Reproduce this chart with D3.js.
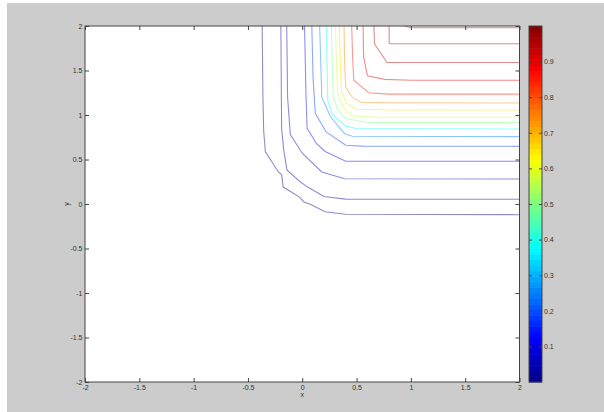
<!DOCTYPE html>
<html>
<head>
<meta charset="utf-8">
<script src="https://cdn.jsdelivr.net/npm/d3@7"></script>
<style>
  body { margin: 0; background: #fff; }
  svg { display: block; }
  text { font-family: 'Liberation Sans', Arial, sans-serif; font-size: 7px; fill: #333; }
</style>
</head>
<body>
<svg id="chart" width="604" height="412"></svg>
<script>
// contour levels, outermost last
const levels = [0.98, 0.96, 0.94, 0.91, 0.85, 0.74, 0.66, 0.575, 0.5, 0.38, 0.25, 0.18, 0.1, 0.05, 0.03, 0.01];

// contour vertices (x and y per level)
const lineXs = [
  [0.94, 1.0, 2.0],
  [0.80, 0.80, 0.81, 2.0],
  [0.66, 0.665, 0.78, 2.0],
  [0.56, 0.565, 0.60, 0.76, 1.0, 2.0],
  [0.455, 0.465, 0.475, 0.61, 0.80, 2.0],
  [0.385, 0.39, 0.40, 0.46, 0.54, 0.80, 2.0],
  [0.341, 0.35, 0.36, 0.41, 0.50, 0.80, 2.0],
  [0.305, 0.315, 0.325, 0.38, 0.46, 0.70, 2.0],
  [0.268, 0.275, 0.285, 0.33, 0.40, 0.60, 2.0],
  [0.222, 0.228, 0.235, 0.275, 0.40, 0.50, 2.0],
  [0.16, 0.17, 0.18, 0.26, 0.39, 0.46, 2.0],
  [0.088, 0.10, 0.12, 0.22, 0.40, 0.55, 2.0],
  [0.021, 0.035, 0.045, 0.13, 0.21, 0.40, 2.0],
  [-0.143, -0.135, -0.11, 0.0, 0.18, 0.39, 2.0],
  [-0.197, -0.19, -0.17, -0.14, -0.02, 0.05, 0.20, 0.40, 2.0],
  [-0.369, -0.362, -0.355, -0.34, -0.22, -0.19, -0.175, -0.03, 0.02, 0.07, 0.21, 0.40, 2.0]
];
const lineYs = [
  [2.0, 1.98, 1.98],
  [2.0, 1.81, 1.80, 1.80],
  [2.0, 1.80, 1.59, 1.59],
  [2.0, 1.65, 1.44, 1.40, 1.39, 1.39],
  [2.0, 1.60, 1.39, 1.25, 1.235, 1.235],
  [2.0, 1.60, 1.31, 1.20, 1.143, 1.137, 1.135],
  [2.0, 1.60, 1.27, 1.13, 1.065, 1.057, 1.056],
  [2.0, 1.60, 1.24, 1.08, 0.99, 0.975, 0.974],
  [2.0, 1.60, 1.20, 1.05, 0.96, 0.916, 0.914],
  [2.0, 1.60, 1.16, 1.01, 0.875, 0.848, 0.843],
  [2.0, 1.60, 1.20, 0.98, 0.79, 0.762, 0.757],
  [2.0, 1.40, 1.02, 0.81, 0.66, 0.65, 0.648],
  [2.0, 1.20, 0.85, 0.68, 0.59, 0.48, 0.48],
  [2.0, 1.20, 0.78, 0.57, 0.36, 0.283, 0.281],
  [2.0, 0.85, 0.60, 0.38, 0.25, 0.19, 0.085, 0.055, 0.053],
  [2.0, 1.20, 0.82, 0.59, 0.36, 0.33, 0.19, 0.08, 0.02, 0.0, -0.087, -0.116, -0.12]
];

const xTicks = [-2, -1.5, -1, -0.5, 0, 0.5, 1, 1.5, 2];
const yTicks = [-2, -1.5, -1, -0.5, 0, 0.5, 1, 1.5, 2];
const barTicks = [0.1, 0.2, 0.3, 0.4, 0.5, 0.6, 0.7, 0.8, 0.9];

const plot = { left: 85, top: 26, width: 434.5, height: 356 };
const bar = { left: 529, width: 13 };

// jet colormap
const jet = d3.scaleLinear()
  .domain([0, 0.125, 0.375, 0.625, 0.875, 1])
  .range(['#000080', '#0000ff', '#00ffff', '#ffff00', '#ff0000', '#800000']);

let svg = d3.select('#chart');

// figure background
svg.append('rect')
  .attr('x', 7).attr('y', 3)
  .attr('width', 597).attr('height', 409)
  .attr('fill', '#cccccc');

let x = d3.scaleLinear().domain([-2, 2]).range([plot.left, plot.left + plot.width]);
let y = d3.scaleLinear().domain([-2, 2]).range([plot.top + plot.height, plot.top]);

svg.append('rect')
  .attr('x', plot.left).attr('y', plot.top)
  .attr('width', plot.width).attr('height', plot.height)
  .attr('fill', '#fff');

svg.append('clipPath').attr('id', 'clip')
  .append('rect')
  .attr('x', plot.left).attr('y', plot.top)
  .attr('width', plot.width).attr('height', plot.height);

let line = d3.line()
  .x(function(d) { return x(d[0]); })
  .y(function(d) { return y(d[1]); });

svg.append('g')
  .attr('clip-path', 'url(#clip)')
  .selectAll('path')
  .data(levels)
  .enter().append('path')
  .attr('d', function(d, i) { return line(d3.zip(lineXs[i], lineYs[i])); })
  .attr('fill', 'none')
  .attr('stroke', function(d) { return jet(d); })
  .attr('stroke-opacity', 0.45)
  .attr('stroke-width', 1.1);

const fmt = function(d) { return String(d); };

// axes, ticks pointing inward on all four sides
svg.append('g')
  .attr('class', 'x axis')
  .attr('transform', 'translate(0,' + (plot.top + plot.height) + ')')
  .call(d3.axisBottom(x).tickValues(xTicks).tickFormat(fmt).tickSize(-4).tickPadding(3.5));

svg.append('g')
  .attr('transform', 'translate(0,' + plot.top + ')')
  .call(d3.axisTop(x).tickValues(xTicks).tickFormat('').tickSize(-4));

svg.append('g')
  .attr('class', 'y axis')
  .attr('transform', 'translate(' + plot.left + ',0)')
  .call(d3.axisLeft(y).tickValues(yTicks).tickFormat(fmt).tickSize(-4).tickPadding(2.5));

svg.append('g')
  .attr('transform', 'translate(' + (plot.left + plot.width) + ',0)')
  .call(d3.axisRight(y).tickValues(yTicks).tickFormat('').tickSize(-4));

svg.selectAll('.domain').remove();
svg.selectAll('.tick line').attr('stroke', '#444');
svg.selectAll('.tick text').attr('fill', '#333').style('font-size', '7px');

svg.append('rect')
  .attr('x', plot.left).attr('y', plot.top)
  .attr('width', plot.width).attr('height', plot.height)
  .attr('fill', 'none')
  .attr('stroke', '#444');

svg.append('text')
  .attr('x', x(0)).attr('y', 397)
  .attr('text-anchor', 'middle')
  .text('x');

svg.append('text')
  .attr('transform', 'translate(67,' + y(0) + ') rotate(-90)')
  .attr('text-anchor', 'middle')
  .attr('dy', '0.35em')
  .text('y');

// colorbar
let c = d3.scaleLinear().domain([0, 1]).range([plot.top + plot.height, plot.top]);
let steps = d3.range(64);

svg.append('g')
  .selectAll('rect')
  .data(steps)
  .enter().append('rect')
  .attr('x', bar.left)
  .attr('width', bar.width)
  .attr('y', function(d) { return c((d + 1) / 64); })
  .attr('height', function(d) { return c(d / 64) - c((d + 1) / 64) + 0.5; })
  .attr('fill', function(d) { return jet((d + 0.5) / 64); });

svg.append('g')
  .attr('transform', 'translate(' + (bar.left + bar.width) + ',0)')
  .call(d3.axisRight(c).tickValues(barTicks).tickFormat(fmt).tickSize(-3).tickPadding(2))
  .call(function(g) { g.select('.domain').remove(); });

svg.append('g')
  .attr('transform', 'translate(' + bar.left + ',0)')
  .call(d3.axisLeft(c).tickValues(barTicks).tickFormat('').tickSize(-3))
  .call(function(g) { g.select('.domain').remove(); });

svg.selectAll('.tick line').attr('stroke', '#444');
svg.selectAll('.tick text').attr('fill', '#333').style('font-size', '7px').style('font-family', "'Liberation Sans', Arial, sans-serif");

svg.append('rect')
  .attr('x', bar.left).attr('y', plot.top)
  .attr('width', bar.width).attr('height', plot.height)
  .attr('fill', 'none')
  .attr('stroke', '#444');
</script>
</body>
</html>
